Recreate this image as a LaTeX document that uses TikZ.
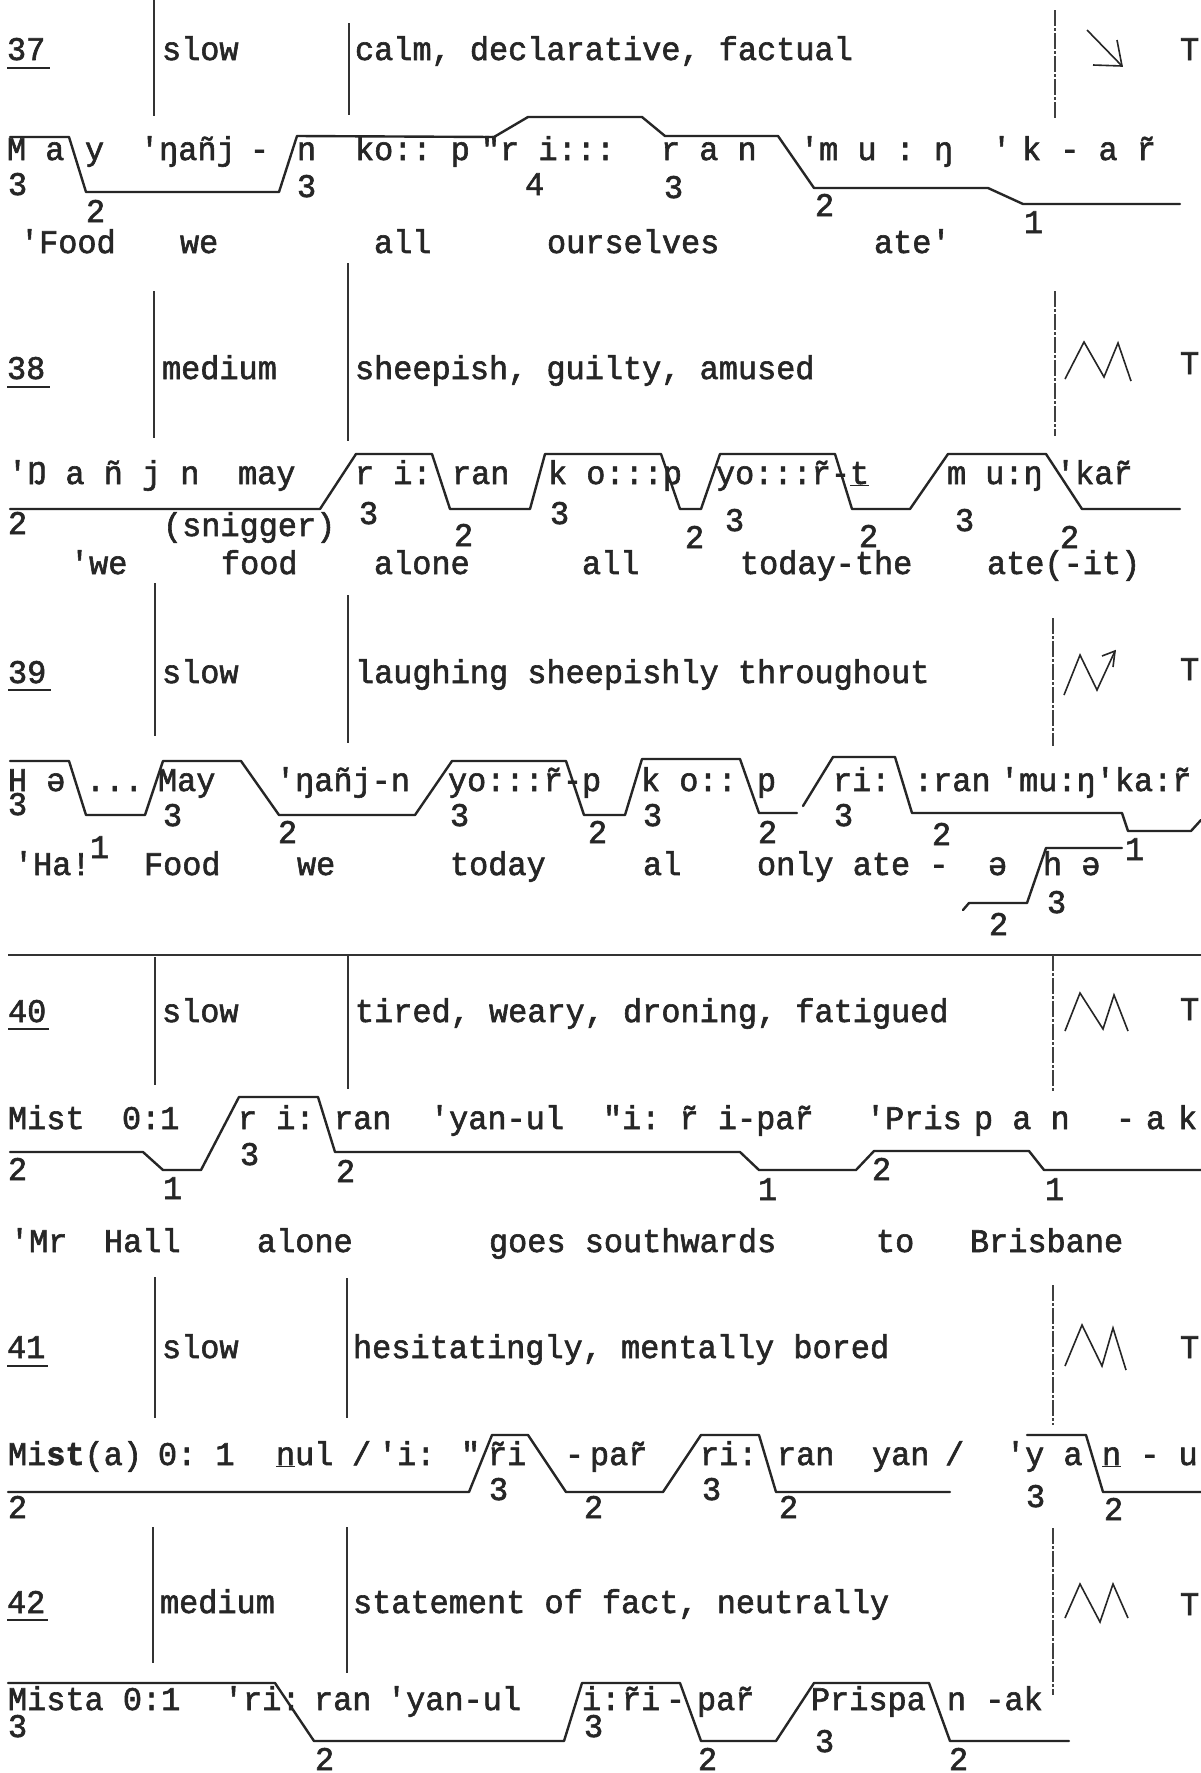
\documentclass[tikz,border=0pt]{standalone}
\usepackage{fontspec}
\setmonofont{Liberation Mono}[FakeBold=1.8,FakeStretch=0.967]
\newcounter{nd}
\newcommand\Tx[4][]{\stepcounter{nd}\node[txt,#1] (n\arabic{nd}) at (#2,#3) {#4};}
\tikzset{
 txt/.style={anchor=base west, inner sep=0pt, outer sep=0pt, font=\ttfamily\fontsize{33}{36}\selectfont, text=black!85},
 tone/.style={line width=2.4pt, line join=round, line cap=round, draw=black!85},
 bar/.style={line width=1.2pt, draw=black!80},
 dbar/.style={line width=1.2pt, draw=black!75, dash pattern=on 16pt off 2pt on 3pt off 2pt},
 sym/.style={line width=1.6pt, draw=black!85, line join=miter},
 ulst/.style={line width=1.6pt, draw=black!85},
}
\begin{document}
\begin{tikzpicture}[x=1pt,y=-1pt]
\fill[white] (0,0) rectangle (1201,1773);
\useasboundingbox (0,0) rectangle (1201,1773);

% ================= 37 =================
\node[txt] (h37) at (7,60) {37};
\draw[ulst] ([yshift=-8pt]h37.base west) -- ([xshift=5pt,yshift=-8pt]h37.base east);
\Tx{162}{60}{slow}
\Tx{355}{60}{calm, declarative, factual}
\Tx{1180}{60}{T}
\draw[bar] (154,0) -- (154,116);
\draw[bar] (349,23) -- (349,115);
\draw[dbar] (1055,10) -- (1055,118);
\draw[sym] (1087,30) -- (1122,66);
\draw[sym] (1093,65) -- (1122,66) -- (1117,40);
\draw[tone] (10,137) -- (69,137) -- (86,192) -- (279,192) -- (297,136) -- (494,137) -- (528,117) -- (642,117) -- (665,136) -- (778,136) -- (814,188) -- (988,188) -- (1023,204) -- (1180,204);
\Tx{7}{160}{M a}
\Tx{85}{160}{y}
\Tx{140}{160}{'ŋañj}
\Tx{250}{160}{-}
\Tx{297}{160}{n}
\Tx{355}{160}{ko:: p}
\Tx{481}{160}{"r i:::}
\Tx{661}{160}{r a n}
\Tx{800}{160}{'m u : ŋ}
\Tx{992}{160}{'}
\Tx{1022}{160}{k - a r̃}
\Tx{8}{195}{3}
\Tx{86}{222}{2}
\Tx{297}{197}{3}
\Tx{525}{195}{4}
\Tx{664}{198}{3}
\Tx{815}{216}{2}
\Tx{1024}{233}{1}
\Tx{20}{253}{'Food}
\Tx{180}{253}{we}
\Tx{374}{253}{all}
\Tx{547}{253}{ourselves}
\Tx{874}{253}{ate'}

% ================= 38 =================
\node[txt] (h38) at (7,379) {38};
\draw[ulst] ([yshift=-8pt]h38.base west) -- ([xshift=5pt,yshift=-8pt]h38.base east);
\Tx{162}{379}{medium}
\Tx{355}{379}{sheepish, guilty, amused}
\Tx{1180}{374}{T}
\draw[bar] (154,291) -- (154,438);
\draw[bar] (348,263) -- (348,441);
\draw[dbar] (1055,291) -- (1055,436);
\draw[sym] (1065,379) -- (1084,342) -- (1104,377) -- (1118,343) -- (1131,381);
\draw[tone] (10,509) -- (320,509) -- (356,454) -- (432,454) -- (450,509) -- (530,509) -- (545,454) -- (661,454) -- (680,509) -- (701,509) -- (720,454) -- (835,454) -- (852,509) -- (910,509) -- (948,454) -- (1046,454) -- (1082,509) -- (1180,509);
\Tx{8}{484}{'Ŋ a ñ j n}
\Tx{238}{484}{may}
\Tx{355}{484}{r i:}
\Tx{452}{484}{ran}
\Tx{548}{484}{k o:::p}
\Tx{716}{484}{yo:::r̃-\underline{t}}
\Tx{947}{484}{m u:ŋ}
\Tx{1056}{484}{'kar̃}
\Tx{8}{534}{2}
\Tx{163}{536}{(snigger)}
\Tx{359}{524}{3}
\Tx{454}{546}{2}
\Tx{550}{524}{3}
\Tx{685}{548}{2}
\Tx{725}{531}{3}
\Tx{859}{547}{2}
\Tx{955}{531}{3}
\Tx{1060}{548}{2}
\Tx{70}{574}{'we}
\Tx{221}{574}{food}
\Tx{374}{574}{alone}
\Tx{582}{574}{all}
\Tx{740}{574}{today-the}
\Tx{987}{574}{ate(-it)}

% ================= 39 =================
\node[txt] (h39) at (8,683) {39};
\draw[ulst] ([yshift=-7pt]h39.base west) -- ([xshift=5pt,yshift=-7pt]h39.base east);
\Tx{162}{683}{slow}
\Tx{355}{683}{laughing sheepishly throughout}
\Tx{1180}{680}{T}
\draw[bar] (155,583) -- (155,736);
\draw[bar] (348,595) -- (348,743);
\draw[dbar] (1053,618) -- (1053,746);
\draw[sym] (1064,695) -- (1080,655) -- (1097,690) -- (1115,651);
\draw[sym] (1102,656) -- (1115,651) -- (1113,667);
\draw[tone] (10,761) -- (69,761) -- (86,815) -- (145,815) -- (163,761) -- (241,761) -- (279,815) -- (415,815) -- (452,761) -- (566,761) -- (584,815) -- (625,815) -- (642,759) -- (740,759) -- (759,813) -- (797,813);
\draw[tone] (803,806) -- (833,757) -- (895,757) -- (912,813) -- (1122,813) -- (1128,831) -- (1191,831) -- (1201,820);
\draw[tone] (963,910) -- (969,903) -- (1027,903) -- (1046,848) -- (1122,848);
\Tx{8}{791}{H ə}
\Tx{86}{791}{...}
\Tx{158}{791}{May}
\Tx{276}{791}{'ŋañj-n}
\Tx{448}{791}{yo:::r̃-p}
\Tx{641}{791}{k o::}
\Tx{757}{791}{p}
\Tx{833}{791}{ri:}
\Tx{914}{791}{:ran}
\Tx{1000}{791}{'mu:ŋ'ka:r̃}
\Tx{8}{815}{3}
\Tx{163}{826}{3}
\Tx{278}{843}{2}
\Tx{450}{826}{3}
\Tx{588}{843}{2}
\Tx{643}{826}{3}
\Tx{758}{843}{2}
\Tx{834}{826}{3}
\Tx{932}{845}{2}
\Tx{1125}{860}{1}
\Tx{14}{875}{'Ha!}
\Tx{90}{858}{1}
\Tx{144}{875}{Food}
\Tx{297}{875}{we}
\Tx{450}{875}{today}
\Tx{643}{875}{al}
\Tx{757}{875}{only ate -}
\Tx{988}{875}{ə}
\Tx{1043}{875}{h ə}
\Tx{989}{935}{2}
\Tx{1047}{913}{3}

% ================= 40 =================
\draw[bar] (8,955) -- (1201,955);
\node[txt] (h40) at (8,1022) {40};
\draw[ulst] ([yshift=-7pt]h40.base west) -- ([xshift=3pt,yshift=-7pt]h40.base east);
\Tx{162}{1022}{slow}
\Tx{355}{1022}{tired, weary, droning, fatigued}
\Tx{1180}{1020}{T}
\draw[bar] (155,957) -- (155,1085);
\draw[bar] (348,955) -- (348,1089);
\draw[dbar] (1053,955) -- (1053,1092);
\draw[sym] (1065,1031) -- (1080,993) -- (1103,1029) -- (1114,995) -- (1128,1031);
\draw[tone] (10,1152) -- (143,1152) -- (163,1170) -- (201,1170) -- (239,1097) -- (318,1097) -- (335,1152) -- (740,1152) -- (759,1170) -- (856,1170) -- (874,1151) -- (1029,1151) -- (1044,1170) -- (1201,1170);
\Tx{8}{1129}{Mist}
\Tx{122}{1129}{0:1}
\Tx{238}{1129}{r i:}
\Tx{334}{1129}{ran}
\Tx{430}{1129}{'yan-ul}
\Tx{603}{1129}{"i: r̃ i-par̃}
\Tx{866}{1129}{'Pris}
\Tx{974}{1129}{p a n}
\Tx{1116}{1129}{-}
\Tx{1146}{1129}{a}
\Tx{1178}{1129}{k}
\Tx{8}{1180}{2}
\Tx{163}{1199}{1}
\Tx{240}{1165}{3}
\Tx{336}{1182}{2}
\Tx{758}{1200}{1}
\Tx{872}{1180}{2}
\Tx{1045}{1200}{1}
\Tx{10}{1252}{'Mr}
\Tx{104}{1252}{Hall}
\Tx{257}{1252}{alone}
\Tx{489}{1252}{goes southwards}
\Tx{876}{1252}{to}
\Tx{970}{1252}{Brisbane}

% ================= 41 =================
\node[txt] (h41) at (7,1358) {41};
\draw[ulst] ([yshift=-8pt]h41.base west) -- ([xshift=3pt,yshift=-8pt]h41.base east);
\Tx{162}{1358}{slow}
\Tx{353}{1358}{hesitatingly, mentally bored}
\Tx{1180}{1358}{T}
\draw[bar] (155,1277) -- (155,1418);
\draw[bar] (347,1278) -- (347,1418);
\draw[dbar] (1053,1285) -- (1053,1425);
\draw[sym] (1065,1366) -- (1082,1325) -- (1102,1366) -- (1113,1328) -- (1126,1370);
\draw[tone] (8,1492) -- (469,1492) -- (492,1435) -- (528,1435) -- (566,1492) -- (663,1492) -- (701,1435) -- (759,1435) -- (776,1492) -- (950,1492);
\draw[tone] (1027,1435) -- (1086,1435) -- (1103,1492) -- (1201,1492);
\Tx{8}{1465}{Mi\textbf{st}(a)}
\Tx{158}{1465}{0: 1}
\Tx{276}{1465}{\underline{n}ul}
\Tx{352}{1465}{/}
\Tx{378}{1465}{'i:}
\Tx{461}{1465}{"}
\Tx{488}{1465}{r̃i}
\Tx{565}{1465}{-}
\Tx{590}{1465}{par̃}
\Tx{700}{1465}{ri:}
\Tx{777}{1465}{ran}
\Tx{872}{1465}{yan}
\Tx{945}{1465}{/}
\Tx{1006}{1465}{'y a}
\Tx{1102}{1465}{\underline{n} - u}
\Tx{8}{1518}{2}
\Tx{489}{1500}{3}
\Tx{584}{1518}{2}
\Tx{702}{1500}{3}
\Tx{779}{1518}{2}
\Tx{1026}{1507}{3}
\Tx{1104}{1520}{2}

% ================= 42 =================
\node[txt] (h42) at (7,1613) {42};
\draw[ulst] ([yshift=-7pt]h42.base west) -- ([xshift=3pt,yshift=-7pt]h42.base east);
\Tx{160}{1613}{medium}
\Tx{353}{1613}{statement of fact, neutrally}
\Tx{1180}{1615}{T}
\draw[bar] (153,1527) -- (153,1663);
\draw[bar] (347,1527) -- (347,1673);
\draw[dbar] (1053,1528) -- (1053,1695);
\draw[sym] (1065,1618) -- (1080,1584) -- (1100,1622) -- (1113,1584) -- (1128,1618);
\draw[tone] (8,1683) -- (275,1683) -- (314,1741) -- (564,1741) -- (582,1683) -- (680,1683) -- (701,1741) -- (776,1741) -- (814,1683) -- (929,1683) -- (950,1741) -- (1069,1741);
\Tx{8}{1710}{Mista 0:1}
\Tx{224}{1710}{'ri:}
\Tx{314}{1710}{ran}
\Tx{387}{1710}{'yan-ul}
\Tx{582}{1710}{i:}
\Tx{622}{1710}{r̃i}
\Tx{666}{1710}{-}
\Tx{697}{1710}{par̃}
\Tx{811}{1710}{Prispa}
\Tx{947}{1710}{n -ak}
\Tx{8}{1737}{3}
\Tx{315}{1770}{2}
\Tx{584}{1737}{3}
\Tx{698}{1770}{2}
\Tx{815}{1752}{3}
\Tx{949}{1770}{2}
\end{tikzpicture}
\end{document}
